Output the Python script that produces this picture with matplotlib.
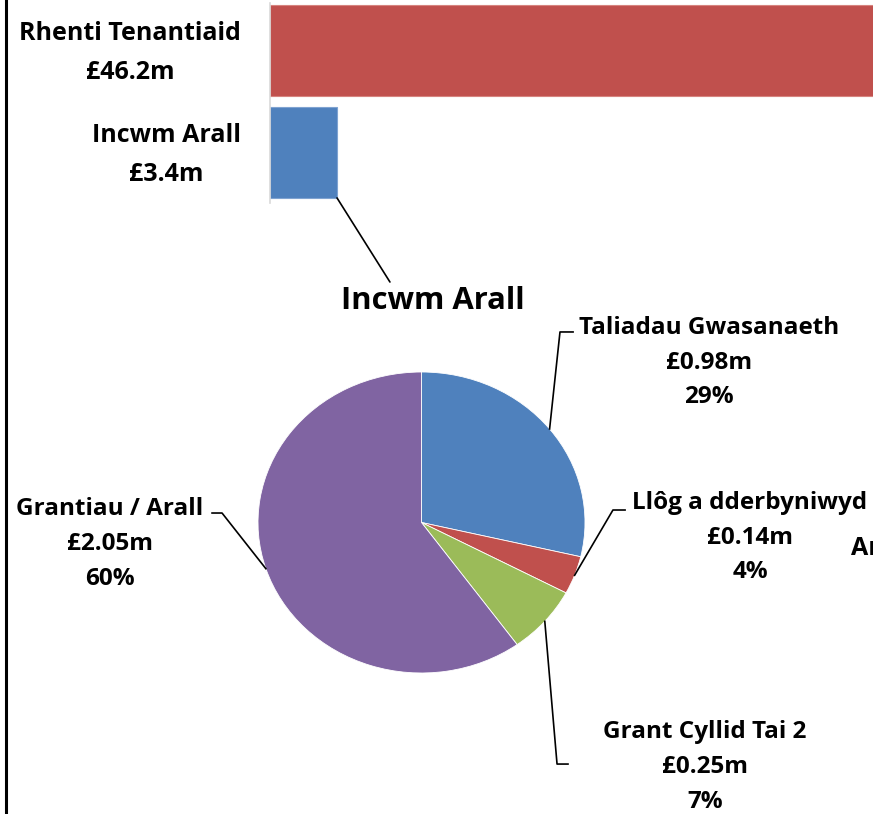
import matplotlib
matplotlib.use("Agg")
import matplotlib.pyplot as plt
from matplotlib.patches import ConnectionPatch
from matplotlib.lines import Line2D
import numpy as np

plt.rcParams['font.family'] = ['Open Sans', 'DejaVu Sans']

# bar data (top part)
bar_names = ['Incwm Arall', 'Rhenti Tenantiaid']
bar_values = [3.4, 46.2]
bar_colors = ['#4F81BD', '#C0504D']

# pie data (Incwm Arall breakdown)
pie_names = ['Taliadau Gwasanaeth', 'Llôg a dderbyniwyd', 'Grant Cyllid Tai 2', 'Grantiau / Arall']
pie_values = [0.98, 0.14, 0.25, 2.05]
pie_pcts = [29, 4, 7, 60]
pie_colors = ['#4F81BD', '#C0504D', '#9BBB59', '#8064A2']

W, H = 873, 814
fig = plt.figure(figsize=(W / 100, H / 100), dpi=100)

def px_box(x0, y0, x1, y1):
    return [x0 / W, 1 - y1 / H, (x1 - x0) / W, (y1 - y0) / H]

# ---- bar chart ----
bax = fig.add_axes(px_box(270, 3, 873, 203))
bar_h = 0.89
ypos = np.arange(len(bar_values))
bax.barh(ypos, bar_values, height=bar_h, color=bar_colors,
         edgecolor=['#7FA3D1', '#D6847F'], linewidth=0.8)
bax.set_xlim(0, 603 / (67 / 3.4))
bax.set_ylim(-0.495, 1.466)
bax.set_yticks([])
bax.set_xticks([])
for y, n, v in zip(ypos, bar_names, bar_values):
    bax.annotate(f'{n}\n£{v}m', xy=(0, y), xytext=(-21, -2), textcoords='offset points',
                 ha='right', va='center', multialignment='center',
                 fontsize=18, fontweight='bold', linespacing=1.72)
for s in ['top', 'right', 'bottom']:
    bax.spines[s].set_visible(False)
bax.spines['left'].set_color('#D9D9D9')
bax.spines['left'].set_linewidth(1.2)

# ---- pie chart ----
pax = fig.add_axes(px_box(258, 372, 585, 673))
wedges, _ = pax.pie(pie_values, colors=pie_colors, startangle=90, counterclock=False,
                    wedgeprops=dict(edgecolor='white', linewidth=0.6))
pax.set_aspect('auto')
pax.set_xlim(-1, 1)
pax.set_ylim(-1, 1)

pax.text(0.07, 1.47, 'Incwm Arall', ha='center', va='center',
         fontsize=22.3, fontweight='bold')

# label layout: (elbow point, line end, text centre) in pie axes coords
label_layout = [
    ((0.847, 1.266), (0.927, 1.266), (1.758, 1.062)),
    ((1.171, 0.083), (1.245, 0.083), (2.009, -0.100)),
    ((0.829, -1.605), (0.896, -1.605), (1.734, -1.625)),
    ((-1.220, 0.063), (-1.281, 0.063), (-1.905, -0.143)),
]
for w, name, val, pct, (elb, end, tc) in zip(wedges, pie_names, pie_values, pie_pcts, label_layout):
    mid = np.deg2rad((w.theta1 + w.theta2) / 2)
    ex, ey = np.cos(mid), np.sin(mid)
    pax.plot([ex, elb[0], end[0]], [ey, elb[1], end[1]], color='black',
             lw=1.2, clip_on=False)
    pax.text(tc[0], tc[1], f'{name}\n£{val}m\n{pct}%', ha='center', va='center',
             multialignment='center', fontsize=17.5, fontweight='bold',
             linespacing=1.6, clip_on=False)

# cut-off label from the neighbouring chart
pax.text(2.627, -0.17, 'Ar', ha='left', va='center', fontsize=18,
         fontweight='bold', clip_on=False)

# connector from bar to pie
con = ConnectionPatch(xyA=(bar_values[0], -bar_h / 2), coordsA=bax.transData,
                      xyB=(-0.193, 1.598), coordsB=pax.transData,
                      color='black', lw=1.2)
fig.add_artist(con)

# left frame edge
fig.add_artist(Line2D([6 / W, 6 / W], [0, 1], transform=fig.transFigure,
                      color='black', lw=2.2))

fig.savefig('out.png', dpi=100)
